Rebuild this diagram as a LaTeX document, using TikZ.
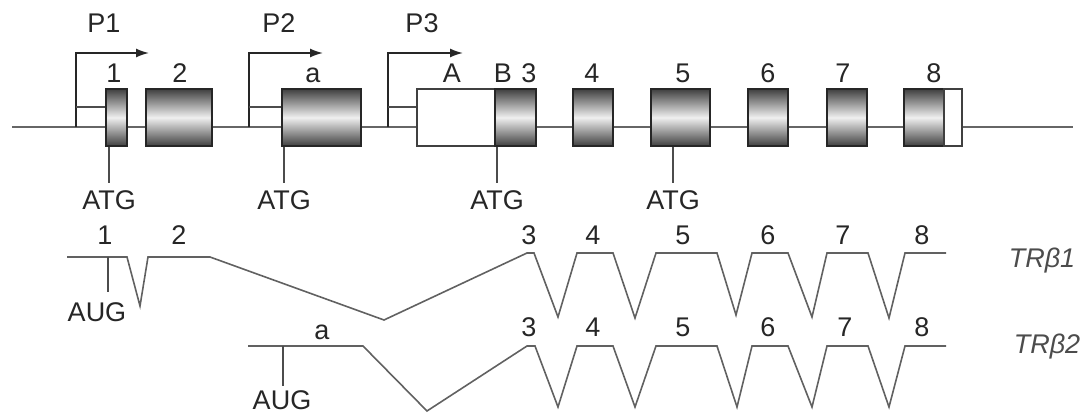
\documentclass[tikz,border=0pt]{standalone}
\usepackage{fontspec}
\setmainfont{Liberation Sans}
\usetikzlibrary{arrows.meta}
\begin{document}
\begin{tikzpicture}[x=1pt,y=-1pt,
  every node/.style={font=\fontsize{27}{30}\selectfont, inner sep=0pt, text=black!85},
  lbl/.style={anchor=base},
  trlbl/.style={anchor=base, font=\fontsize{27}{30}\selectfont\itshape, text=black!70},
  exon/.style={draw=black!85, line width=1.5pt, top color=black!75, bottom color=black!75, middle color=black!6, minimum height=57pt, inner sep=0pt},
  utr/.style={draw=black!75, line width=1.5pt, fill=white, minimum height=57pt, inner sep=0pt},
  gline/.style={draw=black!60, line width=1.6pt},
  stem/.style={draw=black!70, line width=1.6pt},
  tx/.style={draw=black!62, line width=1.6pt, line join=miter, miter limit=20},
  prom/.style={draw=black!85, line width=1.6pt, -{Latex[length=13pt,width=9pt]}},
  pline/.style={draw=black!70, line width=1.5pt},
]
\useasboundingbox (0,0) rectangle (1088,414);

% genomic line
\coordinate (gL) at (12,127);
\coordinate (gR) at (1073,127);
\draw[gline] (gL) -- (gR);

% exons
\node[exon, minimum width=21pt] (e1) at (116.5,117.5) {};
\node[exon, minimum width=66pt] (e2) at (179,117.5) {};
\node[exon, minimum width=79pt] (ea) at (321.5,117.5) {};
\node[utr,  minimum width=78pt] (eA) at (456,117.5) {};
\node[exon, minimum width=41pt] (eB) at (515.5,117.5) {};
\node[exon, minimum width=40pt] (e4) at (593,117.5) {};
\node[exon, minimum width=59pt] (e5) at (680.5,117.5) {};
\node[exon, minimum width=40pt] (e6) at (768,117.5) {};
\node[exon, minimum width=40pt] (e7) at (847,117.5) {};
\node[exon, minimum width=40pt] (e8) at (924,117.5) {};
\node[utr,  minimum width=18pt] (e8u) at (953,117.5) {};

% exon labels
\node[lbl] (l1) at (114,83) {1};
\node[lbl] (l2) at (180,83) {2};
\node[lbl] (la) at (313,83) {a};
\node[lbl] (lA) at (452,83) {A};
\node[lbl] (lB) at (503,83) {B};
\node[lbl] (l3) at (529,83) {3};
\node[lbl] (l4) at (592,83) {4};
\node[lbl] (l5) at (683,83) {5};
\node[lbl] (l6) at (768,83) {6};
\node[lbl] (l7) at (843,83) {7};
\node[lbl] (l8) at (934,83) {8};

% promoters
\node[lbl] (P1) at (104,33) {P1};
\node[lbl] (P2) at (279,33) {P2};
\node[lbl] (P3) at (422,33) {P3};
\coordinate (p1b) at (76,127);  \coordinate (p1t) at (149,53);  \coordinate (p1m) at (76,107);
\coordinate (p2b) at (249,127); \coordinate (p2t) at (323,53);  \coordinate (p2m) at (249,107);
\coordinate (p3b) at (388,127); \coordinate (p3t) at (463,53);  \coordinate (p3m) at (388,107);
\draw[prom] (p1b) |- (p1t);
\draw[prom] (p2b) |- (p2t);
\draw[prom] (p3b) |- (p3t);
\draw[pline] (p1m) -- (p1m -| e1.west);
\draw[pline] (p2m) -- (p2m -| ea.west);
\draw[pline] (p3m) -- (p3m -| eA.west);

% ATG
\node[lbl] (atg1) at (109,210) {ATG};
\node[lbl] (atg2) at (284,210) {ATG};
\node[lbl] (atg3) at (497,210) {ATG};
\node[lbl] (atg5) at (673,210) {ATG};
\draw[stem] (atg1.north |- e1.south) -- ([yshift=8pt]atg1.north);
\draw[stem] (atg2.north |- ea.south) -- ([yshift=8pt]atg2.north);
\draw[stem] (atg3.north |- eB.south) -- ([yshift=8pt]atg3.north);
\draw[stem] (atg5.north |- e5.south) -- ([yshift=8pt]atg5.north);

% TR beta 1 transcript
\draw[tx] (67,257) -- (127,257) -- (140,306) -- (148,257) -- (210,257) -- (384,320) -- (527,253) -- (534,253)
  -- (558,317) -- (577,253) -- (613,253) -- (635,318) -- (656,253) -- (717,253) -- (736,315) -- (752,253)
  -- (788,253) -- (812,317) -- (827,253) -- (868,253) -- (889,318) -- (905,253) -- (946,253);
\node[lbl] (u1) at (97,322) {AUG};
\coordinate (u1s) at (108,257);
\draw[stem] (u1s) -- (u1s |- 0,292);
\node[lbl] (r1l1) at (105,245) {1};
\node[lbl] (r1l2) at (179,245) {2};
\node[lbl] (r1l3) at (529,245) {3};
\node[lbl] (r1l4) at (593,245) {4};
\node[lbl] (r1l5) at (683,245) {5};
\node[lbl] (r1l6) at (768,245) {6};
\node[lbl] (r1l7) at (843,245) {7};
\node[lbl] (r1l8) at (922,245) {8};
\node[trlbl] (tr1) at (1042,268) {TRβ1};

% TR beta 2 transcript
\draw[tx] (248,346) -- (363,346) -- (427,411) -- (527,346) -- (535,346)
  -- (558,407) -- (577,346) -- (613,346) -- (635,407) -- (656,346) -- (717,346) -- (737,407) -- (752,346)
  -- (788,346) -- (812,407) -- (827,346) -- (868,346) -- (889,407) -- (905,346) -- (946,346);
\node[lbl] (u2) at (282,409) {AUG};
\coordinate (u2s) at (283,346);
\draw[stem] (u2s) -- (u2s |- 0,386);
\node[lbl] (r2la) at (322,339) {a};
\node[lbl] (r2l3) at (529,337) {3};
\node[lbl] (r2l4) at (593,337) {4};
\node[lbl] (r2l5) at (683,337) {5};
\node[lbl] (r2l6) at (768,337) {6};
\node[lbl] (r2l7) at (845,337) {7};
\node[lbl] (r2l8) at (922,337) {8};
\node[trlbl] (tr2) at (1047,353) {TRβ2};
\end{tikzpicture}
\end{document}
